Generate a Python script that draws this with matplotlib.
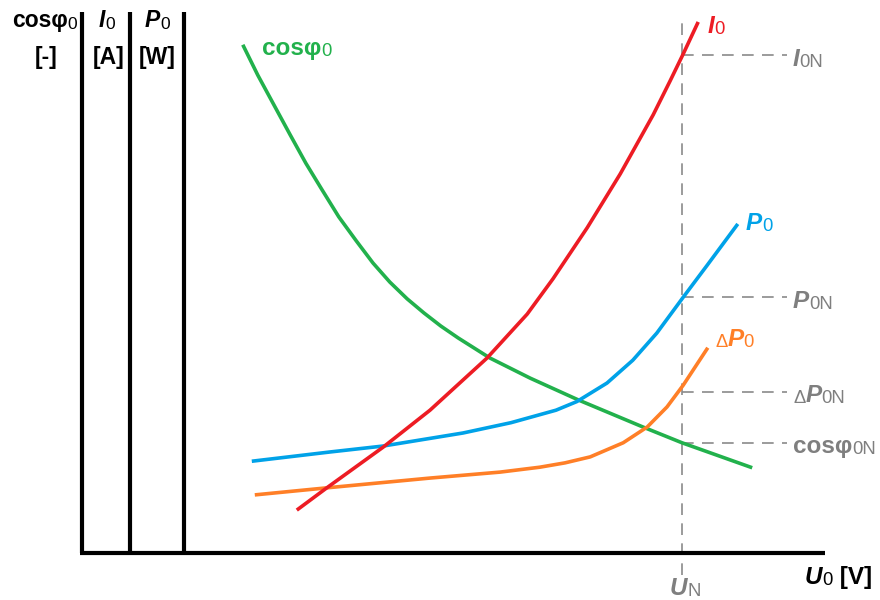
import matplotlib
matplotlib.use("Agg")
import matplotlib.pyplot as plt

# No-load characteristics of a transformer, U0 in units of U_N
# (0 = origin, 1 = rated voltage); curve values in relative units of the chart height.
U_N = 1.0

u_cos = [0.268, 0.293, 0.320, 0.347, 0.373, 0.400, 0.428, 0.457, 0.485, 0.513, 0.542,
         0.570, 0.598, 0.627, 0.680, 0.747, 0.827, 0.935, 1.000, 1.117]
cos_phi0 = [0.936, 0.880, 0.825, 0.770, 0.718, 0.669, 0.619, 0.575, 0.534, 0.499, 0.468,
            0.442, 0.418, 0.396, 0.359, 0.322, 0.282, 0.232, 0.203, 0.157]

u_i = [0.358, 0.408, 0.502, 0.580, 0.675, 0.742, 0.785, 0.842, 0.897, 0.952, 0.980, 1.002, 1.027]
i0 = [0.079, 0.120, 0.195, 0.263, 0.359, 0.440, 0.505, 0.599, 0.698, 0.807, 0.869, 0.919, 0.978]

u_p = [0.283, 0.413, 0.502, 0.635, 0.715, 0.790, 0.825, 0.875, 0.918, 0.958, 1.002, 1.042, 1.093]
p0 = [0.169, 0.186, 0.197, 0.221, 0.240, 0.263, 0.279, 0.313, 0.355, 0.405, 0.471, 0.530, 0.606]

u_dp = [0.288, 0.408, 0.580, 0.697, 0.763, 0.805, 0.847, 0.902, 0.942, 0.975, 1.002, 1.043]
dp0 = [0.107, 0.120, 0.138, 0.149, 0.158, 0.166, 0.177, 0.203, 0.232, 0.269, 0.309, 0.378]

# Rated-point values (dashed guide levels)
i0_n = 0.917
p0_n = 0.471
dp0_n = 0.297
cos_n = 0.203

# Positions of the three stacked vertical axes and extent of the axes
axis_x = [0.0, 0.08, 0.17]
axis_top = 0.996
u_axis_end = 1.238

GREEN = "#22b14c"
RED = "#ed1c24"
BLUE = "#00a2e8"
ORANGE = "#ff7f27"
GRAY = "#8a8a8a"
TGRAY = "#7f7f7f"

W, H = 880, 600
X0, Y0, SX, SY = 82, 553, 600, 543

fig = plt.figure(figsize=(W / 100, H / 100), dpi=100)
ax = fig.add_axes([0, 0, 1, 1])
ax.set_xlim(-X0 / SX, (W - X0) / SX)
ax.set_ylim((Y0 - H) / SY, Y0 / SY)
ax.axis("off")


def P(px, py):
    """Layout helper: pixel position on the canvas -> data coordinates."""
    return (px - X0) / SX, (Y0 - py) / SY


FONT = "Liberation Sans"


def rich(pos, parts, color, size=17.5):
    """Draw a label made of several styled pieces placed one after another."""
    x, y = pos
    t = None
    for txt, kind in parts:
        kw = dict(color=color, fontfamily=FONT)
        if kind == "b":
            kw.update(fontsize=size, fontweight="bold")
        elif kind == "bi":
            kw.update(fontsize=size, fontweight="bold", fontstyle="italic")
        elif kind == "s":
            kw.update(fontsize=size * 0.76)
        if t is None:
            t = ax.text(x, y, txt, ha="left", va="baseline", **kw)
        else:
            t = ax.annotate(txt, xy=(1, 0), xycoords=t, ha="left", va="bottom", **kw)
    return t


# Axes
for xa in axis_x:
    ax.plot([xa, xa], [0, axis_top], color="black", lw=3, solid_capstyle="butt", zorder=3)
ax.plot([axis_x[0] - 0.0035, u_axis_end], [0, 0], color="black", lw=3,
        solid_capstyle="butt", zorder=3)

# Rated-voltage guide lines
dash = dict(color=GRAY, lw=1.2, dashes=(7, 5), zorder=1)
ax.plot([U_N, U_N], [P(0, 575)[1], P(0, 17)[1]], **dash)
guide_end = P(787, 0)[0]
for val in (i0_n, p0_n, dp0_n, cos_n):
    ax.plot([U_N, guide_end], [val, val], **dash)

# Curves
style = dict(lw=2.6, solid_joinstyle="round", solid_capstyle="butt")
ax.plot(u_cos, cos_phi0, color=GREEN, zorder=4, **style)
ax.plot(u_dp, dp0, color=ORANGE, zorder=4, **style)
ax.plot(u_p, p0, color=BLUE, zorder=4, **style)
ax.plot(u_i, i0, color=RED, zorder=5, **style)

# Axis headings
rich(P(12, 27), [("cosφ", "b"), ("0", "s")], "black", 16.5)
rich(P(35, 64), [("[-]", "b")], "black", 16.5)
rich(P(99, 27), [("I", "bi"), ("0", "s")], "black", 16.5)
rich(P(93, 64), [("[A]", "b")], "black", 16.5)
rich(P(145, 27), [("P", "bi"), ("0", "s")], "black", 16.5)
rich(P(139, 64), [("[W]", "b")], "black", 16.5)

# Curve labels
rich(P(262, 55), [("cosφ", "b"), ("0", "s")], GREEN)
rich(P(708, 33), [("I", "bi"), ("0", "s")], RED)
rich(P(746, 230), [("P", "bi"), ("0", "s")], BLUE)
rich(P(715, 347), [("Δ", "s"), ("P", "bi"), ("0", "s")], ORANGE)

# Rated-point labels
lab_x = P(793, 0)[0]
rich((lab_x, i0_n - 0.02), [("I", "bi"), ("0N", "s")], TGRAY)
rich((lab_x, p0_n - 0.02), [("P", "bi"), ("0N", "s")], TGRAY)
rich((lab_x, dp0_n - 0.02), [("Δ", "s"), ("P", "bi"), ("0N", "s")], TGRAY)
rich((lab_x, cos_n - 0.018), [("cosφ", "b"), ("0N", "s")], TGRAY)

rich(P(670, 595), [("U", "bi"), ("N", "s")], TGRAY)
rich(P(805, 584), [("U", "bi"), ("0", "s"), (" [V]", "b")], "black")

fig.savefig("out.png", dpi=100)
